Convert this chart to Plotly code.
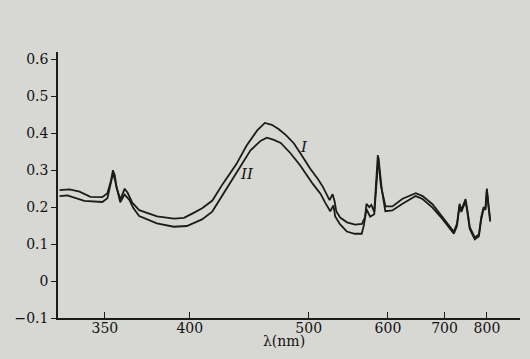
import plotly.graph_objects as go

# Wavelength (nm) and absorbance for curve I
lam_I = [328.1, 332.7, 337.4, 342.7, 348.7, 351.3, 353.1, 354.2, 355.2, 356.1, 358.2, 360.5,
         362.1, 364.7, 368.6, 379.1, 389.6, 396.1, 402.3, 408.5, 415.8, 423.5, 433.9, 442.3,
         451.0, 457.8, 464.1, 470.5, 477.2, 484.8, 491.6, 501.7, 509.9, 515.4, 523.0, 526.5,
         528.8, 530.8, 535.4, 543.9, 553.9, 563.2, 567.4, 569.2, 573.1, 575.9, 580.0, 585.1,
         589.5, 596.3, 606.9, 623.0, 645.3, 657.7, 676.0, 695.4, 719.8, 726.6, 732.4, 736.5,
         746.2, 750.5, 756.2, 768.4, 778.8, 784.7, 790.7, 796.0, 799.7, 804.1, 808.7]
abs_I = [0.246, 0.248, 0.242, 0.228, 0.227, 0.238, 0.270, 0.300, 0.286, 0.253, 0.221, 0.250,
         0.239, 0.212, 0.192, 0.175, 0.169, 0.171, 0.184, 0.197, 0.218, 0.263, 0.316, 0.367,
         0.407, 0.428, 0.423, 0.411, 0.395, 0.373, 0.345, 0.304, 0.276, 0.255, 0.219, 0.235,
         0.216, 0.189, 0.172, 0.159, 0.153, 0.155, 0.174, 0.209, 0.200, 0.206, 0.187, 0.341,
         0.259, 0.202, 0.202, 0.223, 0.238, 0.230, 0.208, 0.175, 0.133, 0.155, 0.209, 0.192,
         0.222, 0.192, 0.146, 0.118, 0.126, 0.172, 0.199, 0.199, 0.250, 0.207, 0.166]

# Wavelength (nm) and absorbance for curve II
lam_II = [328.1, 331.7, 339.7, 348.7, 351.3, 353.0, 354.2, 355.2, 356.6, 358.1, 360.4, 363.1,
          365.2, 368.6, 379.0, 389.5, 398.0, 402.1, 408.4, 415.7, 425.7, 437.1, 445.5, 454.3,
          459.6, 465.9, 472.3, 481.6, 491.3, 504.4, 512.9, 518.3, 523.8, 527.5, 529.5, 535.2,
          543.7, 553.6, 562.8, 565.8, 569.0, 574.3, 580.0, 586.0, 590.8, 596.1, 606.8, 622.9,
          645.2, 657.5, 676.0, 695.2, 719.8, 726.6, 732.4, 736.5, 746.2, 750.5, 756.2, 768.4,
          778.8, 784.7, 790.7, 796.0, 799.7, 804.1, 808.7]
abs_II = [0.230, 0.232, 0.217, 0.214, 0.224, 0.259, 0.291, 0.275, 0.240, 0.213, 0.234, 0.220,
          0.198, 0.176, 0.156, 0.147, 0.149, 0.157, 0.167, 0.188, 0.247, 0.308, 0.354, 0.380,
          0.388, 0.382, 0.374, 0.346, 0.313, 0.263, 0.236, 0.211, 0.189, 0.205, 0.175, 0.154,
          0.134, 0.128, 0.128, 0.152, 0.195, 0.174, 0.181, 0.335, 0.248, 0.189, 0.191, 0.209,
          0.230, 0.222, 0.199, 0.169, 0.128, 0.149, 0.203, 0.187, 0.216, 0.186, 0.141, 0.113,
          0.121, 0.166, 0.194, 0.194, 0.245, 0.201, 0.161]

x_tick_nm = [350, 400, 500, 600, 700, 800]
x_tick_text = ["350", "400", "500", "600", "700", "800"]
y_tick_vals = [-0.1, 0, 0.1, 0.2, 0.3, 0.4, 0.5, 0.6]
y_tick_text = ["\u22120.1", "0", "0.1", "0.2", "0.3", "0.4", "0.5", "0.6"]
x_range_nm = [327.4, 900.0]
y_range = [-0.1, 0.62]

def wn(lams):
    # the axis is linear in wavenumber (1/lambda)
    return [1e7 / v for v in lams]

line_col = "#1b1b1b"
text_col = "#121212"
bg = "#d7d7d3"
font_family = "DejaVu Serif, Liberation Serif, serif"

fig = go.Figure()
fig.add_trace(go.Scatter(x=wn(lam_I), y=abs_I, mode="lines", name="I",
                         line=dict(color=line_col, width=1.8)))
fig.add_trace(go.Scatter(x=wn(lam_II), y=abs_II, mode="lines", name="II",
                         line=dict(color=line_col, width=1.8)))

fig.update_layout(
    width=530, height=359,
    margin=dict(l=58, r=10, t=52, b=41, autoexpand=False),
    paper_bgcolor=bg, plot_bgcolor=bg,
    showlegend=False,
    font=dict(family=font_family, size=14, color=text_col),
)
fig.update_xaxes(
    range=[1e7 / x_range_nm[0], 1e7 / x_range_nm[1]],
    tickmode="array", tickvals=wn(x_tick_nm), ticktext=x_tick_text,
    ticks="inside", ticklen=6, tickwidth=1.2, tickcolor=line_col,
    ticklabelstandoff=-4,
    showline=True, linecolor=line_col, linewidth=1.5,
    showgrid=False, zeroline=False,
    tickfont=dict(family=font_family, size=14, color=text_col),
)
fig.update_yaxes(
    range=y_range,
    tickmode="array", tickvals=y_tick_vals, ticktext=y_tick_text,
    ticks="outside", ticklen=5, tickwidth=1.2, tickcolor=line_col,
    showline=True, linecolor=line_col, linewidth=1.5,
    showgrid=False, zeroline=False,
    tickfont=dict(family=font_family, size=14, color=text_col),
)

fig.add_annotation(x=1e7 / 495, y=0.364, text="<i>I</i>", showarrow=False,
                   font=dict(family=font_family, size=15, color=text_col))
fig.add_annotation(x=1e7 / 443, y=0.289, text="<i>II</i>", showarrow=False,
                   font=dict(family=font_family, size=15, color=text_col))
fig.add_annotation(xref="paper", yref="paper", x=0.49, y=-0.085, yanchor="middle",
                   text="\u03bb(nm)", showarrow=False,
                   font=dict(family=font_family, size=14, color=text_col))

fig.write_html("out.html", config={"displayModeBar": False},
               post_script="document.body.style.margin='0px';")
